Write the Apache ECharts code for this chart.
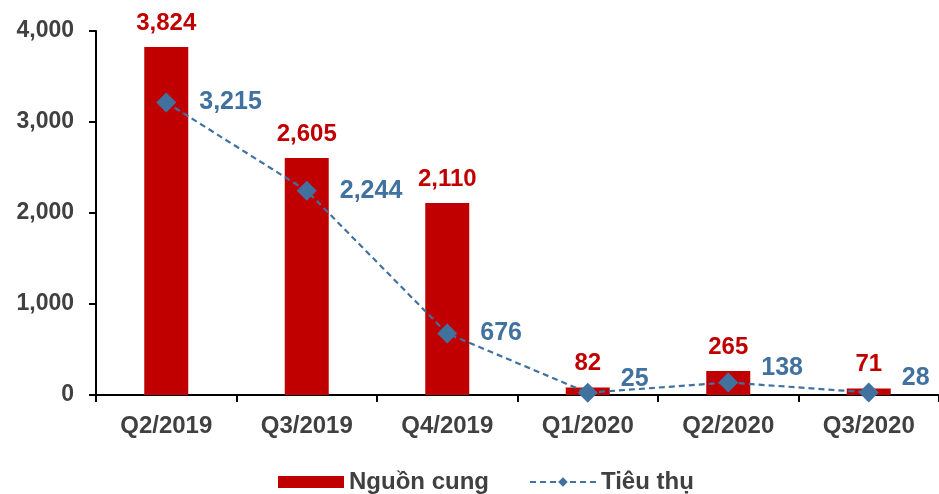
<!DOCTYPE html>
<html>
<head>
<meta charset="utf-8">
<script src="https://cdn.jsdelivr.net/npm/echarts@6/dist/echarts.min.js"></script>
<style>
  html, body { margin: 0; padding: 0; background: #fff; }
  #main { width: 939px; height: 494px; }
</style>
</head>
<body>
<div id="main"></div>
<script>
const categories = ['Q2/2019', 'Q3/2019', 'Q4/2019', 'Q1/2020', 'Q2/2020', 'Q3/2020']
const supply = [3824, 2605, 2110, 82, 265, 71] // Nguồn cung
const absorption = [3215, 2244, 676, 25, 138, 28] // Tiêu thụ

const font = '"Liberation Sans", Arial, sans-serif'
const gray = '#404040'
const red = '#C00000'
const blue = '#41729F'

// small values: lift the label a bit above the marker, like the original
const absorptionData = absorption.map(v => v < 300 ? { value: v, label: { offset: [0, -14] } } : v)

let myChart = echarts.init(document.getElementById('main'))
let option = {
  animation: false,
  textStyle: { fontFamily: font },
  grid: {
    left: 96,
    top: 31,
    width: 849,
    height: 364,
    containLabel: false
  },
  legend: {
    top: 465,
    left: 273,
    itemGap: 40,
    itemWidth: 66,
    itemHeight: 12,
    textStyle: { color: gray, fontSize: 24, fontWeight: 'bold', fontFamily: font },
    data: [
      { name: 'Nguồn cung', icon: 'rect' },
      { name: 'Tiêu thụ' }
    ]
  },
  xAxis: {
    type: 'category',
    data: categories,
    axisLine: { lineStyle: { color: '#000', width: 2 } },
    axisTick: { show: true, length: 7, lineStyle: { color: '#000', width: 2 } },
    axisLabel: { color: gray, fontSize: 24, fontWeight: 'bold', margin: 19, fontFamily: font }
  },
  yAxis: {
    type: 'value',
    min: 0,
    max: 4000,
    interval: 1000,
    axisLine: { show: true, lineStyle: { color: '#000', width: 2 } },
    axisTick: { show: true, length: 7, lineStyle: { color: '#000', width: 2 } },
    splitLine: { show: false },
    axisLabel: {
      color: gray, fontSize: 23, fontWeight: 'bold', margin: 22, fontFamily: font,
      formatter: v => v.toLocaleString('en-US')
    }
  },
  series: [
    {
      name: 'Nguồn cung',
      type: 'bar',
      barWidth: 44,
      itemStyle: { color: red },
      label: {
        show: true,
        position: 'top',
        distance: 12,
        color: red,
        fontSize: 24,
        fontWeight: 'bold',
        fontFamily: font,
        formatter: p => p.value.toLocaleString('en-US')
      },
      data: supply
    },
    {
      name: 'Tiêu thụ',
      type: 'line',
      symbol: 'diamond',
      symbolSize: 20,
      itemStyle: { color: blue },
      lineStyle: { color: blue, width: 2.2, type: [6, 4] },
      label: {
        show: true,
        position: 'right',
        distance: 23,
        color: blue,
        fontSize: 25,
        fontWeight: 'bold',
        fontFamily: font,
        formatter: p => p.value.toLocaleString('en-US')
      },
      data: absorptionData,
      z: 3
    }
  ]
}
myChart.setOption(option, true)
</script>
</body>
</html>
